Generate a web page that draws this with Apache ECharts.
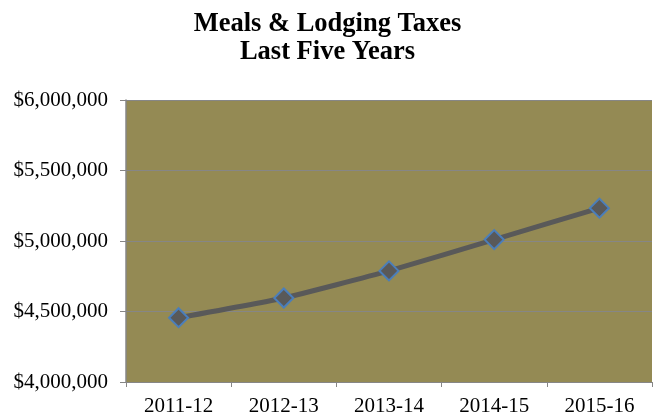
<!DOCTYPE html>
<html>
<head>
<meta charset="utf-8">
<script src="https://cdn.jsdelivr.net/npm/echarts@6/dist/echarts.min.js"></script>
<style>
html,body{margin:0;padding:0;background:#fff;}
#chart{width:655px;height:417px;}
</style>
</head>
<body>
<div id="chart"></div>
<script>
// Fiscal years and meals & lodging tax revenue
const years = ['2011-12', '2012-13', '2013-14', '2014-15', '2015-16'];
const taxRevenue = [4456000, 4596000, 4788000, 5010000, 5233000];
const yTicks = [4000000, 4500000, 5000000, 5500000, 6000000];

const serif = '"Liberation Serif", "Times New Roman", serif';
const fmtDollars = v => '$' + v.toString().replace(/\B(?=(\d{3})+(?!\d))/g, ',');

const chart = echarts.init(document.getElementById('chart'));
chart.setOption({
  animation: false,
  backgroundColor: '#ffffff',
  title: {
    text: 'Meals & Lodging Taxes\nLast Five Years',
    left: 'center',
    top: 5,
    textStyle: {
      fontFamily: serif,
      fontWeight: 'bold',
      fontSize: 26.5,
      lineHeight: 28,
      color: '#000'
    }
  },
  grid: {
    left: 126, right: 3, top: 100, bottom: 32,
    show: true,
    backgroundColor: '#948a54',
    borderWidth: 0
  },
  xAxis: {
    type: 'category',
    data: years,
    boundaryGap: true,
    axisLine: { show: true, lineStyle: { color: '#868686', width: 1 } },
    axisTick: { show: true, alignWithLabel: false, length: 5, lineStyle: { color: '#868686' } },
    axisLabel: { fontFamily: serif, fontSize: 21, color: '#000', margin: 14 }
  },
  yAxis: {
    type: 'value',
    min: yTicks[0],
    max: yTicks[yTicks.length - 1],
    interval: yTicks[1] - yTicks[0],
    axisLine: { show: true, lineStyle: { color: '#868686', width: 1.5 } },
    axisTick: { show: true, inside: false, length: 6, lineStyle: { color: '#868686' } },
    splitLine: { show: true, lineStyle: { color: '#868686', width: 1 } },
    axisLabel: { fontFamily: serif, fontSize: 21, color: '#000', margin: 18, formatter: fmtDollars }
  },
  series: [{
    type: 'line',
    data: taxRevenue,
    smooth: 0.15,
    lineStyle: { color: '#595959', width: 5 },
    symbol: 'diamond',
    symbolSize: 19,
    itemStyle: { color: '#595959', borderColor: '#4a7ebb', borderWidth: 2 }
  }]
});
</script>
</body>
</html>
